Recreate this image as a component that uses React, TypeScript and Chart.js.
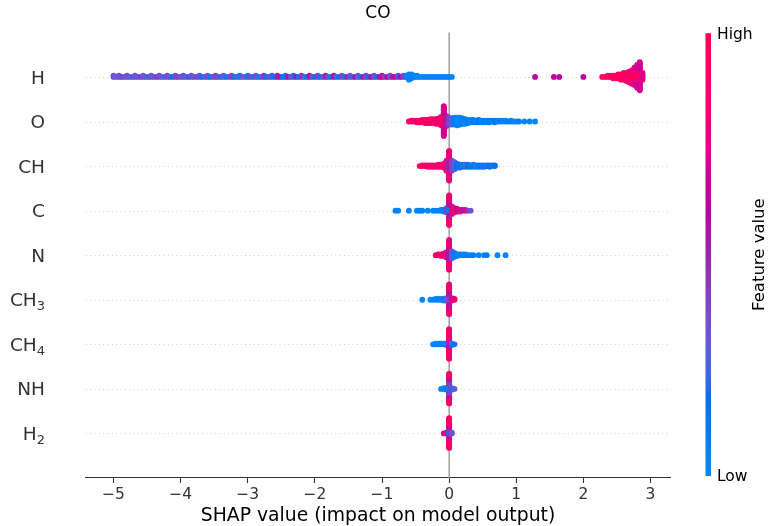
import { useEffect, useRef } from "react";
import { Chart, registerables } from "chart.js";

Chart.register(...registerables);

// ---------- data ----------
const chartTitle = "CO";
const xAxisLabel = "SHAP value (impact on model output)";
const colorbarLabel = "Feature value";
const colorbarHigh = "High";
const colorbarLow = "Low";
// rows from bottom (0) to top (8)
const featureNames = ["H₂", "NH", "CH₄", "CH₃", "N", "C", "CH", "O", "H"];
const xTicks = [-5, -4, -3, -2, -1, 0, 1, 2, 3];
const xMin = -5.41;
const xMax = 3.29;

// histogram bins per feature: x of bin i = binStart + i * binStep
const binStarts = [-0.08, -0.12, -0.24, -0.4, -0.2, -0.8, -0.44, -0.6, -5.0];
const binSteps = [0.04, 0.04, 0.04, 0.04, 0.04, 0.04, 0.04, 0.04, 0.04];

// entries: [bin index, number of samples, feature value 0..1]
const binsH2 = [[0,1,0.8],[1,2,0.85],[2,6,0.1],[2,10,0.45],[2,10,0.7],[2,14,0.9],[3,2,0.3]];
const binsNH = [[0,1,0.05],[1,2,0.05],[2,3,0.1],[3,8,0.05],[3,16,0.4],[3,8,0.65],[3,8,0.88],[4,3,0.2],[5,1,0.3]];
const binsCH4 = [[0,1,0.05],[1,2,0.05],[2,2,0.05],[3,2,0.08],[4,2,0.05],[5,3,0.1],[6,6,0.05],[6,14,0.7],[6,20,0.88],[7,3,0.1],[8,1,0.15]];
const binsCH3 = [[0,1,0.05],[3,1,0.05],[4,1,0.05],[5,2,0.05],[6,2,0.08],[7,2,0.05],[8,3,0.1],[9,4,0.3],[10,12,0.35],[10,14,0.55],[10,14,0.85],[11,4,0.75],[12,2,0.85]];
const binsN = [[0,1,0.9],[1,2,0.85],[2,3,0.9],[3,4,0.8],[4,8,0.75],[5,20,0.55],[5,20,0.82],[6,10,0.3],[7,6,0.1],[8,3,0.05],[9,2,0.1],[10,2,0.05],[11,2,0.1],[12,1,0.05],[13,1,0.05],[14,1,0.1],[16,1,0.05],[18,1,0.05],[19,1,0.1],[23,1,0.05],[26,1,0.05]];
const binsC = [[0,1,0.05],[1,1,0.05],[5,1,0.05],[8,1,0.05],[9,1,0.05],[10,1,0.05],[12,1,0.05],[14,1,0.05],[15,1,0.05],[16,1,0.05],[17,2,0.05],[18,3,0.1],[19,6,0.4],[20,12,0.1],[20,12,0.55],[20,12,0.85],[21,10,0.75],[22,6,0.85],[23,4,0.65],[24,3,0.85],[25,2,0.55],[26,2,0.75],[27,1,0.45],[28,1,0.35]];
const binsCH = [[0,1,0.9],[1,2,0.95],[2,2,0.8],[3,3,0.95],[4,3,0.85],[5,3,0.8],[6,3,0.95],[7,4,0.85],[8,4,0.8],[9,6,0.9],[10,14,0.8],[11,20,0.5],[11,20,0.82],[12,14,0.4],[13,10,0.3],[14,6,0.15],[15,5,0.2],[16,4,0.1],[17,4,0.25],[18,4,0.15],[19,3,0.1],[20,4,0.2],[21,3,0.05],[22,3,0.15],[23,3,0.1],[24,3,0.2],[25,2,0.1],[26,3,0.15],[27,2,0.2],[28,2,0.15]];
const binsO = [[0,1,0.9],[1,2,0.95],[2,2,0.85],[3,3,0.8],[4,3,0.95],[5,4,0.85],[6,5,0.95],[7,5,0.8],[8,6,0.95],[9,6,0.85],[10,7,0.95],[11,8,0.8],[12,12,0.9],[13,16,0.95],[13,24,0.7],[14,14,0.55],[15,10,0.4],[16,9,0.25],[17,10,0.1],[18,11,0.05],[19,10,0.05],[20,8,0.08],[21,7,0.05],[22,5,0.1],[23,4,0.05],[24,4,0.1],[25,3,0.05],[26,4,0.15],[27,3,0.05],[28,3,0.1],[29,3,0.05],[30,3,0.1],[31,2,0.05],[32,3,0.15],[33,2,0.05],[34,2,0.1],[35,2,0.05],[36,2,0.05],[37,1,0.1],[38,2,0.05],[39,1,0.05],[40,1,0.05],[41,1,0.1],[43,1,0.05],[45,1,0.05],[47,1,0.05]];
const binsH = [
  [0,2,0.35],[1,1,0.3],[2,2,0.35],[3,1,0.4],[4,1,0.3],[5,2,0.35],[6,1,0.3],[7,1,0.25],[8,2,0.35],[9,1,0.3],
  [10,1,0.4],[11,2,0.3],[12,1,0.35],[13,1,0.2],[14,2,0.35],[15,1,0.3],[16,1,0.4],[17,2,0.35],[18,1,0.3],[19,1,0.25],
  [20,2,0.35],[21,1,0.3],[22,1,0.15],[23,2,0.35],[24,1,0.4],[25,1,0.3],[26,2,0.35],[27,1,0.3],[28,1,0.2],[29,2,0.35],
  [30,1,0.3],[31,1,0.4],[32,2,0.35],[33,1,0.15],[34,1,0.3],[35,2,0.35],[36,1,0.1],[37,1,0.3],[38,2,0.4],[39,1,0.35],
  [40,1,0.2],[41,2,0.3],[42,1,0.1],[43,1,0.35],[44,2,0.4],[45,1,0.15],[46,1,0.3],[47,2,0.1],[48,1,0.35],[49,1,0.3],
  [50,2,0.1],[51,1,0.4],[52,1,0.2],[53,2,0.35],[54,1,0.1],[55,1,0.3],[56,2,0.45],[57,1,0.15],[58,1,0.35],[59,2,0.2],
  [60,1,0.1],[61,2,0.5],[62,1,0.55],[63,1,0.15],[64,2,0.1],[65,1,0.6],[66,1,0.35],[67,2,0.2],[68,1,0.55],[69,1,0.1],
  [70,2,0.45],[71,1,0.3],[72,1,0.1],[73,2,0.55],[74,1,0.35],[75,1,0.15],[76,2,0.4],[77,1,0.1],[78,1,0.3],[79,2,0.5],
  [80,1,0.35],[81,1,0.1],[82,2,0.55],[83,1,0.3],[84,1,0.15],[85,2,0.4],[86,1,0.1],[87,1,0.5],[88,2,0.35],[89,1,0.2],
  [90,1,0.6],[91,2,0.3],[92,1,0.1],[93,1,0.55],[94,2,0.4],[95,1,0.15],[96,1,0.6],[97,2,0.35],[98,1,0.1],[99,1,0.55],
  [100,2,0.65],[101,1,0.4],[102,1,0.6],[103,2,0.3],[104,1,0.65],[105,1,0.55],[106,2,0.2],[107,1,0.6],[108,2,0.4],
  [109,2,0.1],[110,5,0.05],[111,4,0.05],[112,2,0.05],[113,2,0.05],[114,1,0.05],[115,1,0.05],[116,1,0.05],[117,1,0.05],
  [118,1,0.05],[119,1,0.05],[120,1,0.05],[121,1,0.05],[122,1,0.05],[123,1,0.05],[124,1,0.05],[125,1,0.05],[126,1,0.05],
  [157,1,0.6],[164,1,0.6],[166,1,0.6],[175,1,0.6],
  [182,1,0.95],[183,1,0.92],[184,2,0.95],[185,2,0.9],[186,3,0.95],[187,3,0.9],[188,4,0.95],[189,5,0.9],[190,6,0.95],
  [191,7,0.88],[192,9,0.95],[193,6,0.92],[193,5,0.78],[194,8,0.95],[194,6,0.75],[195,10,0.92],[195,8,0.7],
  [196,10,0.9],[196,12,0.68],[197,6,0.75]
];

const rowBins = [binsH2, binsNH, binsCH4, binsCH3, binsN, binsC, binsCH, binsO, binsH];

// ---------- styling helpers ----------
const FONT = "'DejaVu Sans', 'Liberation Sans', sans-serif";

function lchToRgb(L: number, C: number, h: number): [number, number, number] {
  const a = C * Math.cos(h);
  const b = C * Math.sin(h);
  const fy = (L + 16) / 116;
  const fx = fy + a / 500;
  const fz = fy - b / 200;
  const inv = (t: number) => (t > 6 / 29 ? t * t * t : 3 * (6 / 29) * (6 / 29) * (t - 4 / 29));
  const X = 0.95047 * inv(fx);
  const Y = 1.0 * inv(fy);
  const Z = 1.08883 * inv(fz);
  const r = 3.2406 * X - 1.5372 * Y - 0.4986 * Z;
  const g = -0.9689 * X + 1.8758 * Y + 0.0415 * Z;
  const bl = 0.0557 * X - 0.204 * Y + 1.057 * Z;
  const gam = (c: number) => {
    c = Math.min(1, Math.max(0, c));
    return c <= 0.0031308 ? 12.92 * c : 1.055 * Math.pow(c, 1 / 2.4) - 0.055;
  };
  return [Math.round(gam(r) * 255), Math.round(gam(g) * 255), Math.round(gam(bl) * 255)];
}

function shapColor(v: number): string {
  const t = Math.min(1, Math.max(0, v));
  const L = t < 0.5 ? 54 + (40 - 54) * (t / 0.5) : 40 + (54 - 40) * ((t - 0.5) / 0.5);
  const C = 70 + (90 - 70) * t;
  const h0 = 4.6588;
  const h1 = 0.35470565 + 2 * Math.PI;
  const h = h0 + (h1 - h0) * t;
  const [r, g, b] = lchToRgb(L, C, h);
  return `rgb(${r},${g},${b})`;
}

function buildDatasets() {
  return rowBins.map((bins, r) => {
    const start = binStarts[r];
    const step = binSteps[r];
    const raw: { x: number; ys: number; c: number }[] = [];
    let lastBin = -1;
    let layer = 0;
    for (const [bi, n, c] of bins) {
      if (bi !== lastBin) layer = 0;
      for (let k = 0; k < n; k++) {
        const ys = Math.ceil(layer / 2) * ((layer % 2) * 2 - 1);
        raw.push({ x: start + bi * step, ys, c });
        layer++;
      }
      lastBin = bi;
    }
    const maxY = Math.max(...raw.map((p) => p.ys + 1));
    const s = (0.9 * 0.4) / maxY;
    return {
      label: featureNames[r],
      data: raw.map((p) => ({ x: p.x, y: r + p.ys * s })),
      pointBackgroundColor: raw.map((p) => shapColor(p.c)),
      pointBorderWidth: 0,
      pointRadius: 2.9,
      showLine: false,
    };
  });
}

function drawLabel(ctx: CanvasRenderingContext2D, text: string, rightX: number, cy: number) {
  const subMap: Record<string, string> = { "₀": "0", "₁": "1", "₂": "2", "₃": "3", "₄": "4", "₅": "5", "₆": "6", "₇": "7", "₈": "8", "₉": "9" };
  let main = "";
  let sub = "";
  for (const ch of text) {
    if (subMap[ch]) sub += subMap[ch];
    else main += ch;
  }
  const mainSize = 18.5;
  const subSize = 13;
  ctx.font = `${mainSize}px ${FONT}`;
  const mw = ctx.measureText(main).width;
  ctx.font = `${subSize}px ${FONT}`;
  const sw = sub ? ctx.measureText(sub).width : 0;
  const x0 = rightX - mw - sw;
  const baseline = cy + 6.6;
  ctx.fillStyle = "#333333";
  ctx.textAlign = "left";
  ctx.textBaseline = "alphabetic";
  ctx.font = `${mainSize}px ${FONT}`;
  ctx.fillText(main, x0, baseline);
  if (sub) {
    ctx.font = `${subSize}px ${FONT}`;
    ctx.fillText(sub, x0 + mw, baseline + 4);
  }
}

const decorPlugin = {
  id: "shapDecor",
  beforeDatasetsDraw(chart: any) {
    const { ctx, chartArea } = chart;
    const xs = chart.scales.x;
    const ys = chart.scales.y;
    ctx.save();
    ctx.strokeStyle = "#cccccc";
    ctx.lineWidth = 0.9;
    ctx.setLineDash([1, 3.3]);
    for (let r = 0; r < featureNames.length; r++) {
      const y = Math.round(ys.getPixelForValue(r)) + 0.5;
      ctx.beginPath();
      ctx.moveTo(chartArea.left, y);
      ctx.lineTo(chartArea.right, y);
      ctx.stroke();
    }
    ctx.setLineDash([]);
    const x0 = xs.getPixelForValue(0);
    ctx.strokeStyle = "#999999";
    ctx.lineWidth = 1.4;
    ctx.beginPath();
    ctx.moveTo(x0, chartArea.top);
    ctx.lineTo(x0, chartArea.bottom);
    ctx.stroke();
    ctx.restore();
  },
  afterDraw(chart: any) {
    const { ctx, chartArea } = chart;
    const ys = chart.scales.y;
    ctx.save();
    for (let r = 0; r < featureNames.length; r++) {
      drawLabel(ctx, featureNames[r], 45, ys.getPixelForValue(r));
    }
    // colorbar
    const cbLeft = chartArea.right + 35.5;
    const cbW = 5.5;
    const cbTop = chartArea.top + 0.8;
    const cbBottom = chartArea.bottom - 2;
    const grad = ctx.createLinearGradient(0, cbBottom, 0, cbTop);
    for (let i = 0; i <= 40; i++) grad.addColorStop(i / 40, shapColor(i / 40));
    ctx.fillStyle = grad;
    ctx.fillRect(cbLeft, cbTop, cbW, cbBottom - cbTop);
    ctx.fillStyle = "#000000";
    ctx.font = `15.5px ${FONT}`;
    ctx.textAlign = "left";
    ctx.textBaseline = "middle";
    ctx.fillText(colorbarHigh, cbLeft + 11.5, cbTop + 1.5);
    ctx.fillText(colorbarLow, cbLeft + 11.5, cbBottom + 1);
    ctx.translate(chartArea.right + 90, (cbTop + cbBottom) / 2);
    ctx.rotate(-Math.PI / 2);
    ctx.textAlign = "center";
    ctx.font = `16.5px ${FONT}`;
    ctx.fillText(colorbarLabel, 0, 0);
    ctx.restore();
  },
};

export default function App() {
  const ref = useRef<HTMLCanvasElement | null>(null);
  useEffect(() => {
    document.body.style.margin = "0";
    const canvas = ref.current;
    if (!canvas) return;
    const chart = new Chart(canvas, {
      type: "scatter",
      data: { datasets: buildDatasets() as any },
      options: {
        animation: false,
        responsive: false,
        maintainAspectRatio: false,
        events: [],
        layout: { padding: { left: 86, right: 99, top: 0, bottom: 0 } },
        plugins: {
          legend: { display: false },
          tooltip: { enabled: false },
          title: {
            display: true,
            text: chartTitle,
            color: "#000000",
            font: { family: FONT, size: 17, weight: "normal" as any, lineHeight: 1.2 },
            padding: { top: 3, bottom: 9 },
          },
        },
        scales: {
          x: {
            type: "linear",
            min: xMin,
            max: xMax,
            afterBuildTicks: (s: any) => {
              s.ticks = xTicks.map((v) => ({ value: v }));
            },
            afterFit: (s: any) => {
              s.height = 48;
            },
            ticks: {
              autoSkip: false,
              maxRotation: 0,
              padding: 2.5,
              color: "#333333",
              font: { family: FONT, size: 15.5 },
              callback: (v: any) => String(v).replace("-", "\u2212"),
            },
            grid: {
              drawOnChartArea: false,
              drawTicks: true,
              tickLength: 5,
              tickColor: "#333333",
              tickWidth: 1.1,
            },
            border: { display: true, color: "#333333", width: 1.1 },
            title: {
              display: true,
              text: xAxisLabel,
              color: "#000000",
              font: { family: FONT, size: 18.8, lineHeight: 1.0 },
              padding: { top: 0, bottom: 0 },
            },
          },
          y: { type: "linear", min: -1, max: 9, display: false },
        },
      },
      plugins: [decorPlugin],
    });
    return () => chart.destroy();
  }, []);
  return (
    <div style={{ width: 769, height: 526 }}>
      <canvas ref={ref} width={769} height={526} style={{ display: "block" }} />
    </div>
  );
}
